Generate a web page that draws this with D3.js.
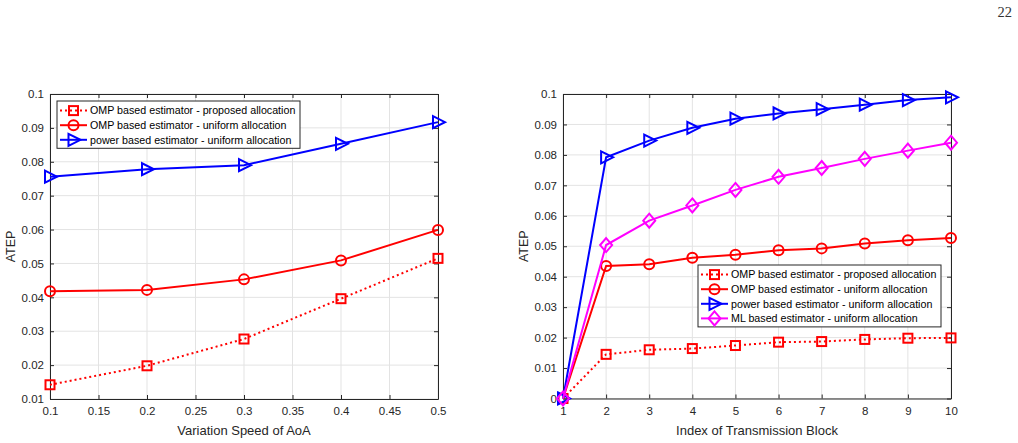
<!DOCTYPE html>
<html>
<head>
<meta charset="utf-8">
<script src="https://cdn.jsdelivr.net/npm/d3@7"></script>
<style>
body { margin: 0; background: #fff; }
svg { display: block; }
text { font-family: "Liberation Sans", Arial, sans-serif; fill: #262626; }
</style>
</head>
<body>
<div id="container"></div>
<script>
// left panel data
var speedX = [0.1, 0.2, 0.3, 0.4, 0.5];
var speedOmpProposed = [0.0142, 0.0198, 0.0277, 0.0396, 0.0515];
var speedOmpUniform = [0.0418, 0.0422, 0.0453, 0.0509, 0.0599];
var speedPowerUniform = [0.0756, 0.0778, 0.0790, 0.0853, 0.0917];
var speedXTicks = [0.1, 0.15, 0.2, 0.25, 0.3, 0.35, 0.4, 0.45, 0.5];
var speedYTicks = [0.01, 0.02, 0.03, 0.04, 0.05, 0.06, 0.07, 0.08, 0.09, 0.1];

// right panel data
var blockX = [1, 2, 3, 4, 5, 6, 7, 8, 9, 10];
var blockOmpProposed = [0, 0.0145, 0.0160, 0.0164, 0.0174, 0.0185, 0.0187, 0.0194, 0.0198, 0.0199];
var blockOmpUniform = [0, 0.0435, 0.0441, 0.0462, 0.0472, 0.0487, 0.0493, 0.0509, 0.0520, 0.0527];
var blockPowerUniform = [0, 0.0792, 0.0847, 0.0889, 0.0919, 0.0936, 0.0950, 0.0965, 0.0980, 0.0989];
var blockMlUniform = [0, 0.0504, 0.0584, 0.0634, 0.0685, 0.0728, 0.0757, 0.0787, 0.0814, 0.0840];
var blockYTicks = [0, 0.01, 0.02, 0.03, 0.04, 0.05, 0.06, 0.07, 0.08, 0.09, 0.1];

var legendNames = [
    "OMP based estimator - proposed allocation",
    "OMP based estimator - uniform allocation",
    "power based estimator - uniform allocation",
    "ML based estimator - uniform allocation"
];

var styles = {
    ompP: {color: "#ff0000", dash: "2,3", marker: "square"},
    ompU: {color: "#ff0000", dash: null, marker: "circle"},
    powU: {color: "#0000ff", dash: null, marker: "triangle"},
    mlU: {color: "#ff00ff", dash: null, marker: "diamond"}
};

var svg = d3.select("#container").append("svg")
    .attr("width", 1018)
    .attr("height", 443);

// page number
svg.append("text")
    .attr("x", 1012).attr("y", 17)
    .attr("text-anchor", "end")
    .style("font-family", "'Liberation Serif', 'Times New Roman', serif")
    .style("font-size", "14.5px")
    .style("fill", "#333")
    .text("22");

function drawMarker(g, type, x, y, color) {
    var m;
    if (type == "square") {
        m = g.append("rect").attr("x", x - 4.5).attr("y", y - 4.5).attr("width", 9).attr("height", 9);
    } else if (type == "circle") {
        m = g.append("circle").attr("cx", x).attr("cy", y).attr("r", 5);
    } else if (type == "triangle") {
        m = g.append("path").attr("d", "M" + (x - 5) + "," + (y - 6) + "L" + (x + 7) + "," + y + "L" + (x - 5) + "," + (y + 6) + "Z");
    } else {
        m = g.append("path").attr("d", "M" + x + "," + (y - 7) + "L" + (x + 6) + "," + y + "L" + x + "," + (y + 7) + "L" + (x - 6) + "," + y + "Z");
    }
    m.style("fill", "none").style("stroke", color).style("stroke-width", 2);
}

function drawPanel(opt) {
    var x = d3.scaleLinear().domain(opt.xDomain).range([opt.left, opt.right]);
    var y = d3.scaleLinear().domain(opt.yDomain).range([opt.bottom, opt.top]);
    var g = svg.append("g");

    // grid
    g.selectAll(".gx").data(opt.xTicks).enter().append("line")
        .attr("x1", function(d){ return x(d); }).attr("x2", function(d){ return x(d); })
        .attr("y1", opt.top).attr("y2", opt.bottom)
        .style("stroke", "#e3e3e3").style("stroke-width", 1);
    g.selectAll(".gy").data(opt.yTicks).enter().append("line")
        .attr("y1", function(d){ return y(d); }).attr("y2", function(d){ return y(d); })
        .attr("x1", opt.left).attr("x2", opt.right)
        .style("stroke", "#e3e3e3").style("stroke-width", 1);

    // axes with inward ticks on all sides
    var bottomAxis = d3.axisBottom(x).tickValues(opt.xTicks).tickSizeInner(-4).tickSizeOuter(0).tickPadding(8).tickFormat(opt.fmtX);
    var topAxis = d3.axisTop(x).tickValues(opt.xTicks).tickSizeInner(-4).tickSizeOuter(0).tickFormat("");
    var leftAxis = d3.axisLeft(y).tickValues(opt.yTicks).tickSizeInner(-4).tickSizeOuter(0).tickPadding(6).tickFormat(opt.fmtY);
    var rightAxis = d3.axisRight(y).tickValues(opt.yTicks).tickSizeInner(-4).tickSizeOuter(0).tickFormat("");

    [[bottomAxis, "translate(0," + opt.bottom + ")"], [topAxis, "translate(0," + opt.top + ")"],
     [leftAxis, "translate(" + opt.left + ",0)"], [rightAxis, "translate(" + opt.right + ",0)"]].forEach(function(a){
        var ax = g.append("g").attr("transform", a[1]).call(a[0]);
        ax.selectAll("path, line").style("stroke", "#262626").style("stroke-width", 1);
        ax.selectAll("text").style("font-family", "'Liberation Sans', Arial, sans-serif").style("font-size", "11.5px").style("fill", "#262626");
    });

    // series
    var line = d3.line().x(function(d){ return x(d[0]); }).y(function(d){ return y(d[1]); });
    opt.series.forEach(function(s){
        var pts = opt.xs.map(function(v, i){ return [v, s.values[i]]; });
        g.append("path").datum(pts)
            .attr("d", line)
            .style("fill", "none")
            .style("stroke", s.style.color)
            .style("stroke-width", 2)
            .style("stroke-dasharray", s.style.dash);
        pts.forEach(function(p){ drawMarker(g, s.style.marker, x(p[0]), y(p[1]), s.style.color); });
    });

    // axis labels
    g.append("text")
        .attr("x", (opt.left + opt.right) / 2).attr("y", opt.bottom + 36)
        .attr("text-anchor", "middle").style("font-size", "13px")
        .text(opt.xLabel);
    g.append("text")
        .attr("transform", "translate(" + (opt.left - 35) + "," + ((opt.top + opt.bottom) / 2) + ") rotate(-90)")
        .attr("text-anchor", "middle").style("font-size", "12.5px")
        .text("ATEP");

    // legend
    var lg = g.append("g").attr("transform", "translate(" + opt.legX + "," + opt.legY + ")");
    lg.append("rect").attr("width", opt.legW).attr("height", opt.series.length * 14.6 + 3.5)
        .style("fill", "#fff").style("stroke", "#262626").style("stroke-width", 1);
    opt.series.forEach(function(s, i){
        var ry = 9.6 + i * 14.6;
        lg.append("line").attr("x1", 3).attr("x2", 30).attr("y1", ry).attr("y2", ry)
            .style("stroke", s.style.color).style("stroke-width", 2)
            .style("stroke-dasharray", s.style.dash);
        drawMarker(lg, s.style.marker, 16.5, ry, s.style.color);
        lg.append("text").attr("x", 33).attr("y", ry + 3.8)
            .style("font-size", "10.7px").style("fill", "#000")
            .text(s.name);
    });
}

drawPanel({
    left: 50, right: 438, top: 94, bottom: 399,
    xDomain: [0.1, 0.5], yDomain: [0.01, 0.1],
    xTicks: speedXTicks, yTicks: speedYTicks,
    fmtX: function(d){ return d3.format("")(+d.toFixed(2)); },
    fmtY: function(d){ return d3.format("")(+d.toFixed(2)); },
    xs: speedX,
    xLabel: "Variation Speed of AoA",
    legX: 57, legY: 101, legW: 243,
    series: [
        {name: legendNames[0], values: speedOmpProposed, style: styles.ompP},
        {name: legendNames[1], values: speedOmpUniform, style: styles.ompU},
        {name: legendNames[2], values: speedPowerUniform, style: styles.powU}
    ]
});

drawPanel({
    left: 563, right: 951, top: 94, bottom: 398.5,
    xDomain: [1, 10], yDomain: [0, 0.1],
    xTicks: blockX, yTicks: blockYTicks,
    fmtX: function(d){ return d; },
    fmtY: function(d){ return d3.format("")(+d.toFixed(2)); },
    xs: blockX,
    xLabel: "Index of Transmission Block",
    legX: 698, legY: 265, legW: 243,
    series: [
        {name: legendNames[0], values: blockOmpProposed, style: styles.ompP},
        {name: legendNames[1], values: blockOmpUniform, style: styles.ompU},
        {name: legendNames[2], values: blockPowerUniform, style: styles.powU},
        {name: legendNames[3], values: blockMlUniform, style: styles.mlU}
    ]
});
</script>
</body>
</html>
